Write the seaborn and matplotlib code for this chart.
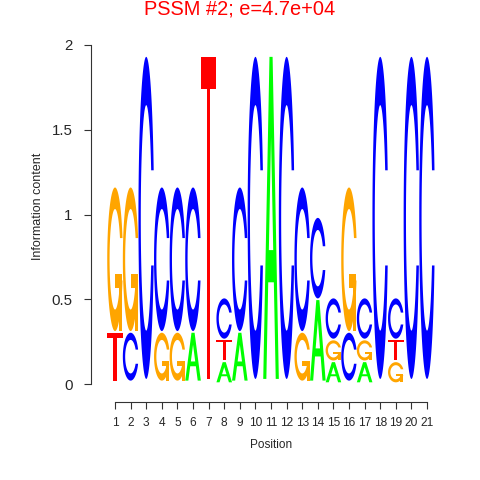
import numpy as np
import matplotlib
matplotlib.use("Agg")
import matplotlib.pyplot as plt
from matplotlib.patches import Polygon
import seaborn as sns

# ---- data (letter probabilities per position) ----
positions = list(range(1, 22))
prob_A = [0, 0, 0, 0, 0, 0.25, 0, 0.25, 0.25, 0, 1, 0, 0, 0.5, 0.25, 0, 0.25, 0, 0, 0, 0]
prob_C = [0, 0.25, 1, 0.75, 0.75, 0.75, 0, 0.5, 0.75, 1, 0, 1, 0.75, 0.5, 0.5, 0.25, 0.5, 1, 0.5, 1, 1]
prob_G = [0.75, 0.75, 0, 0.25, 0.25, 0, 0, 0, 0, 0, 0, 0, 0.25, 0, 0.25, 0.75, 0.25, 0, 0.25, 0, 0]
prob_T = [0.25, 0, 0, 0, 0, 0, 1, 0.25, 0, 0, 0, 0, 0, 0, 0, 0, 0, 0, 0.25, 0, 0]
letters = ["A", "C", "G", "T"]
ytick_values = [0, 0.5, 1, 1.5, 2]
ytick_labels = ["0", "0.5", "1", "1.5", "2"]
title_text = "PSSM #2; e=4.7e+04"
xlabel_text = "Position"
ylabel_text = "Information content"

colors = {"A": "#00FF00", "C": "#0000FF", "G": "#FFA500", "T": "#FF0000"}

sns.set_style("ticks")
plt.rcParams["font.family"] = ["Liberation Sans", "DejaVu Sans"]


def _c_outline():
    a1 = np.linspace(0.3 + np.pi / 2, np.pi, 100)
    a2 = np.linspace(np.pi, 1.5 * np.pi, 100)
    xl1 = 0.5 + 0.5 * np.sin(a1); yl1 = 0.5 + 0.5 * np.cos(a1)
    xl2 = 0.5 + 0.5 * np.sin(a2); yl2 = 0.5 + 0.5 * np.cos(a2)
    xl = np.concatenate([xl1, xl2]); yl = np.concatenate([yl1, yl2])
    x = np.concatenate([xl, xl[::-1]]); y = np.concatenate([yl, 1 - yl[::-1]])
    xi1 = 0.5 + 0.35 * np.sin(a1); yi1 = 0.5 + 0.35 * np.cos(a1)
    keep = yi1 <= yl1.max()
    xi1 = xi1[keep]; yi1 = yi1[keep]
    yi1[0] = yl1.max()
    xi2 = 0.5 + 0.35 * np.sin(a2); yi2 = 0.5 + 0.35 * np.cos(a2)
    xi = np.concatenate([xi1, xi2]); yi = np.concatenate([yi1, yi2])
    x1 = np.concatenate([xi, xi[::-1]]); y1 = np.concatenate([yi, 1 - yi[::-1]])
    x = np.concatenate([x, x1[::-1]]); y = np.concatenate([y, y1[::-1]])
    return x, y, xl1.max()


def letter_shapes(ch):
    if ch == "A":
        x = np.array([0, 4, 6, 10, 8, 6.8, 3.2, 2, 0]) * 0.1
        y = np.array([0, 10, 10, 0, 0, 3, 3, 0, 0]) * 0.1
        xi = np.array([3.6, 5, 6.4, 3.6]) * 0.1
        yi = np.array([4, 7.5, 4, 4]) * 0.1
        return [(x, y, colors["A"]), (xi, yi, "white")]
    if ch == "T":
        x = np.array([0, 10, 10, 6, 6, 4, 4, 0]) * 0.1
        y = np.array([10, 10, 9, 9, 0, 0, 9, 9]) * 0.1
        return [(x, y, colors["T"])]
    x, y, r1 = _c_outline()
    if ch == "C":
        return [(x, y, colors["C"])]
    h1 = 0.4
    xa = np.array([r1, 0.5, 0.5, r1 - 0.2, r1 - 0.2, r1, r1])
    ya = np.array([h1, h1, h1 - 0.1, h1 - 0.1, 0, 0, h1])
    return [(x, y, colors["G"]), (xa, ya, colors["G"])]


fig = plt.figure(figsize=(4.8, 4.8), dpi=100)
W = H = 480.0
px_unit = 15.6
x0 = -0.56
x1 = 22.0
left_px = 90.7
ax = fig.add_axes([left_px / W, 96 / H, (x1 - x0) * px_unit / W, 339 / H])
ax.set_xlim(x0, x1)
ax.set_ylim(0, 2)

probs = np.array([prob_A, prob_C, prob_G, prob_T])  # 4 x npos
for j, pos in enumerate(positions):
    col = probs[:, j]
    nz = col[col > 0]
    ic = 2 + np.sum(nz * np.log2(nz))
    hts = 0.95 * col * ic
    order = np.argsort(hts, kind="stable")
    ypos = 0.0
    for i in order:
        ht = hts[i]
        if ht > 0:
            for sx, sy, c in letter_shapes(letters[i]):
                xy = np.column_stack([pos - 0.5 + sx, ypos + ht * sy])
                ax.add_patch(Polygon(xy, closed=True, facecolor=c,
                                     edgecolor="none", antialiased=True))
        ypos += ht + 0.01

# axes styling (R/grid-like)
for s in ["top", "right"]:
    ax.spines[s].set_visible(False)
ax.spines["left"].set_bounds(0, 2)
ax.spines["bottom"].set_bounds(1, 21)
ax.spines["bottom"].set_position(("outward", 18 * 0.72))
for s in ["left", "bottom"]:
    ax.spines[s].set_linewidth(0.8)
    ax.spines[s].set_color("#333333")

ax.set_yticks(ytick_values, labels=ytick_labels)
ax.set_xticks(positions, labels=[str(p) for p in positions])
ax.tick_params(axis="y", direction="out", length=5, width=0.8, color="#333333",
               labelsize=10.8, pad=8.0)
ax.tick_params(axis="x", direction="out", length=5, width=0.8, color="#333333",
               labelsize=8.6, pad=5.5)

ax.set_xlabel(xlabel_text, fontsize=8.5, va="center")
ax.xaxis.set_label_coords(271 / W, 1 - 445 / H, transform=fig.transFigure)
ax.set_ylabel(ylabel_text, fontsize=9, va="center")
ax.yaxis.set_label_coords(38 / W, 1 - 206 / H, transform=fig.transFigure)

fig.text(240 / W, 1 - 9 / H, title_text, color="#FF0000", fontsize=14.4,
         ha="center", va="center")

fig.savefig("out.png", dpi=100, facecolor="white")
